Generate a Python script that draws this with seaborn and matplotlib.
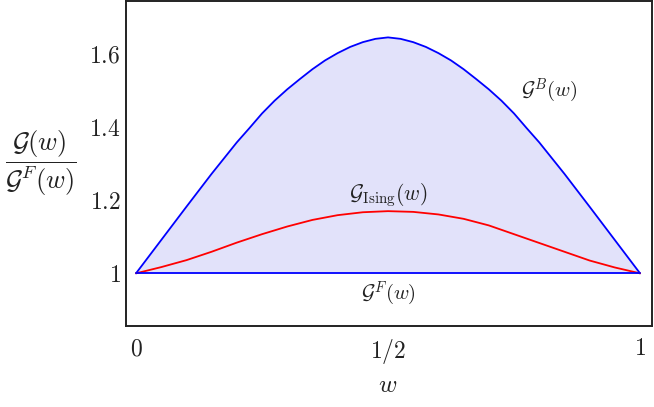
import pandas as pd
import matplotlib
matplotlib.use("Agg")
import matplotlib.pyplot as plt
import seaborn as sns

# values
w_boson = [0.00, 0.05, 0.10, 0.15, 0.20, 0.225, 0.25, 0.275, 0.30, 0.325, 0.35,
           0.375, 0.40, 0.425, 0.45, 0.475, 0.50, 0.525, 0.55, 0.575, 0.60,
           0.625, 0.65, 0.675, 0.70, 0.725, 0.75, 0.775, 0.80, 0.85, 0.90,
           0.95, 1.00]
g_boson = [1.000, 1.091, 1.182, 1.272, 1.358, 1.397, 1.437, 1.472, 1.503, 1.531, 1.558,
           1.582, 1.602, 1.619, 1.632, 1.641, 1.645, 1.641, 1.632, 1.619, 1.602,
           1.582, 1.558, 1.531, 1.503, 1.472, 1.437, 1.397, 1.358, 1.272, 1.182,
           1.091, 1.000]
w_ising = [0.00, 0.05, 0.10, 0.15, 0.20, 0.25, 0.30, 0.35, 0.40, 0.45, 0.50,
           0.55, 0.60, 0.65, 0.70, 0.75, 0.80, 0.85, 0.90, 0.95, 1.00]
g_ising = [1.000, 1.017, 1.036, 1.059, 1.084, 1.107, 1.128, 1.146, 1.159, 1.167, 1.170,
           1.168, 1.161, 1.149, 1.131, 1.107, 1.083, 1.059, 1.035, 1.016, 1.000]
w_fermion = [0.0, 1.0]
g_fermion = [1.0, 1.0]

x_ticks = [0, 0.5, 1]
x_labels = ["$0$", "$1/2$", "$1$"]
y_ticks = [1, 1.2, 1.4, 1.6]
y_labels = ["$1$", "$1.2$", "$1.4$", "$1.6$"]

sns.set_theme(style="white")
plt.rcParams["mathtext.fontset"] = "cm"
plt.rcParams["font.family"] = ["DejaVu Serif"]

df = pd.concat([
    pd.DataFrame({"w": w_boson, "ratio": g_boson, "curve": "B"}),
    pd.DataFrame({"w": w_ising, "ratio": g_ising, "curve": "Ising"}),
    pd.DataFrame({"w": w_fermion, "ratio": g_fermion, "curve": "F"}),
])
palette = {"B": "#0000ff", "Ising": "#ff0000", "F": "#0000ff"}

fig = plt.figure(figsize=(6.54, 4.07), dpi=100)
ax = fig.add_axes([0.1927, 0.199, 0.8043, 0.799])

# shaded region between the bosonic curve and 1
ax.fill_between(w_boson, g_boson, 1.0, color="#e2e2fa", linewidth=0, zorder=0)
sns.lineplot(data=df, x="w", y="ratio", hue="curve", palette=palette,
             estimator=None, sort=False, legend=False, linewidth=1.3, ax=ax)

ax.set_xlim(-0.0198, 1.0238)
ax.set_ylim(0.856, 1.745)
ax.set_xticks(x_ticks)
ax.set_xticklabels(x_labels)
ax.set_yticks(y_ticks)
ax.set_yticklabels(y_labels)
ax.tick_params(axis="both", direction="in", length=4, width=0.8, color="#777777",
               labelsize=17, labelcolor="#222222")
ax.tick_params(axis="x", pad=8)
ax.tick_params(axis="y", pad=4)

for sp in ax.spines.values():
    sp.set_visible(True)
    sp.set_color("#222222")
    sp.set_linewidth(1.4)

ax.set_xlabel("$w$", fontsize=18, color="#222222", va="center")
ax.xaxis.set_label_coords(0.498, -0.184)
ax.set_ylabel(r"$\dfrac{\mathcal{G}(w)}{\mathcal{G}^F(w)}$", fontsize=19,
              rotation=0, color="#222222", ha="center", va="center")
ax.yaxis.set_label_coords(-0.1626, 0.5)

ax.text(0.821, 1.483, r"$\mathcal{G}^B(w)$", fontsize=15, ha="center",
        va="baseline", color="#222222")
ax.text(0.5, 1.200, r"$\mathcal{G}_{\rm Ising}(w)$", fontsize=15.5, ha="center",
        va="baseline", color="#222222")
ax.text(0.5, 0.927, r"$\mathcal{G}^F(w)$", fontsize=15, ha="center",
        va="baseline", color="#222222")

fig.savefig("out.png", dpi=100)
